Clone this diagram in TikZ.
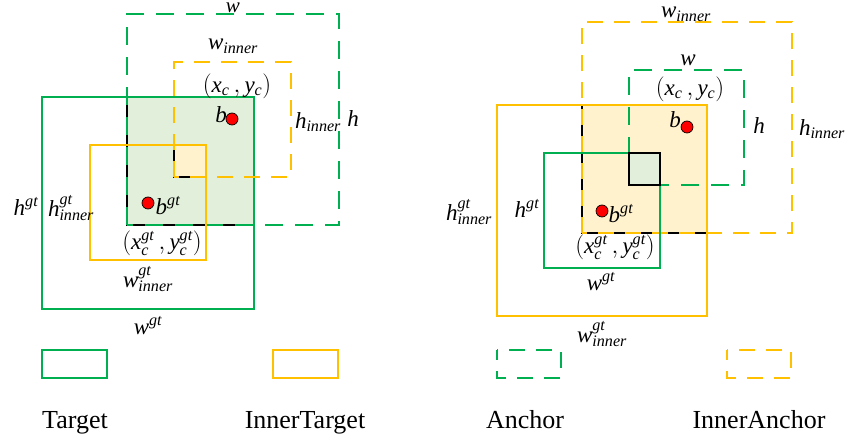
\documentclass[tikz,border=0pt]{standalone}
\usepackage{fontspec}
\setmainfont{Liberation Serif}
\definecolor{boxgreen}{HTML}{00B050}
\definecolor{boxgold}{HTML}{FFC000}
\definecolor{lightgreen}{HTML}{E2EFDA}
\definecolor{lightgold}{HTML}{FFF2CC}
\usetikzlibrary{positioning}

\begin{document}
\begin{tikzpicture}[x=1pt,y=-1pt,
  target/.style={boxgreen,line width=2.8pt},
  anchorbox/.style={boxgreen,line width=2.8pt,dash pattern=on 18pt off 12pt},
  innertarget/.style={boxgold,line width=2.8pt},
  inneranchor/.style={boxgold,line width=2.8pt,dash pattern=on 16pt off 11pt},
  overlap/.style={draw=black,line width=1.8pt},
  lbl/.style={font=\fontsize{23}{27}\selectfont,inner sep=0pt},
  legendtext/.style={font=\fontsize{26}{30}\selectfont,inner sep=0pt,anchor=base},
  centre/.style={circle,fill=red,draw=black,line width=0.7pt,minimum size=12pt,inner sep=0pt}]
  \useasboundingbox (0,0) rectangle (849,443);

  % Left: target vs. anchor
  \filldraw[overlap,fill=lightgreen] (127,97) rectangle (254,225);
  \filldraw[overlap,fill=lightgold] (174,145) rectangle (206,177);
  \draw[anchorbox] (127,225) rectangle (339,14);
  \draw[target] (42,97) rectangle (254,309);
  \draw[inneranchor] (174,177) rectangle (291,62);
  \draw[innertarget] (90,145) rectangle (206,260);
  \node[centre] (bL) at (232,119) {};
  \node[centre] (bgtL) at (148,203) {};
  % Left labels
  \node[lbl,font=\fontsize{21}{25}\selectfont,anchor=base] (wL) at (233,13) {$\mathit{w}$};
  \node[lbl] (winL) at (233,46) {$\mathit{w}_{\mathit{inner}}$};
  \node[lbl] (xycL) at (237,86) {$(\mathit{x}_{\mathit{c}}\,,\mathit{y}_{\mathit{c}})$};
  \node[lbl] (bnameL) at (221,115) {$\mathit{b}$};
  \node[lbl] (hinL) at (318,122) {$\mathit{h}_{\mathit{inner}}$};
  \node[lbl] (hL) at (353,119) {$\mathit{h}$};
  \node[lbl] (hgtL) at (26,206) {$\mathit{h}^{\mathit{gt}}$};
  \node[lbl] (hgtinL) at (71,208) {$\mathit{h}^{\mathit{gt}}_{\mathit{inner}}$};
  \node[lbl] (bgtnameL) at (168,206) {$\mathit{b}^{\mathit{gt}}$};
  \node[lbl] (xycgtL) at (162,243) {$(\mathit{x}^{\mathit{gt}}_{\mathit{c}}\,,\mathit{y}^{\mathit{gt}}_{\mathit{c}})$};
  \node[lbl] (wgtinL) at (148,279) {$\mathit{w}^{\mathit{gt}}_{\mathit{inner}}$};
  \node[lbl] (wgtL) at (148,326) {$\mathit{w}^{\mathit{gt}}$};

  % Right: inner target vs. inner anchor
  \filldraw[overlap,fill=lightgold] (582,105) rectangle (707,233);
  \draw[inneranchor] (582,233) rectangle (792,22);
  \draw[anchorbox] (629,185) rectangle (744,70);
  \draw[innertarget] (497,105) rectangle (707,316);
  \draw[target] (544,153) rectangle (660,268);
  \filldraw[overlap,fill=lightgreen] (629,153) rectangle (660,185);
  \node[centre] (bR) at (687,127) {};
  \node[centre] (bgtR) at (602,211) {};
  % Right labels
  \node[lbl] (winR) at (686,14) {$\mathit{w}_{\mathit{inner}}$};
  \node[lbl] (wR) at (688,60) {$\mathit{w}$};
  \node[lbl] (xycR) at (690,89) {$(\mathit{x}_{\mathit{c}}\,,\mathit{y}_{\mathit{c}})$};
  \node[lbl] (bnameR) at (675,120) {$\mathit{b}$};
  \node[lbl] (hR) at (759,126) {$\mathit{h}$};
  \node[lbl] (hinR) at (822,129) {$\mathit{h}_{\mathit{inner}}$};
  \node[lbl] (hgtinR) at (469,212) {$\mathit{h}^{\mathit{gt}}_{\mathit{inner}}$};
  \node[lbl] (hgtR) at (527,208) {$\mathit{h}^{\mathit{gt}}$};
  \node[lbl] (bgtnameR) at (621,214) {$\mathit{b}^{\mathit{gt}}$};
  \node[lbl] (xycgtR) at (615,247) {$(\mathit{x}^{\mathit{gt}}_{\mathit{c}}\,,\mathit{y}^{\mathit{gt}}_{\mathit{c}})$};
  \node[lbl] (wgtR) at (601,282) {$\mathit{w}^{\mathit{gt}}$};
  \node[lbl] (wgtinR) at (602,334) {$\mathit{w}^{\mathit{gt}}_{\mathit{inner}}$};

  % Legend
  \draw[target] (42,350) rectangle (107,378);
  \draw[innertarget] (273,350) rectangle (338,378);
  \draw[anchorbox,dash pattern=on 16pt off 11pt,dash phase=6pt] (497,350) rectangle (561,378);
  \draw[inneranchor,dash pattern=on 16pt off 11pt,dash phase=6pt] (727,350) rectangle (791,378);
  \node[legendtext] (tgttext) at (75,429) {Target};
  \node[legendtext] (innertgttext) at (305,429) {InnerTarget};
  \node[legendtext] (anchortext) at (525,429) {Anchor};
  \node[legendtext] (inneranchortext) at (759,429) {InnerAnchor};
\end{tikzpicture}
\end{document}
